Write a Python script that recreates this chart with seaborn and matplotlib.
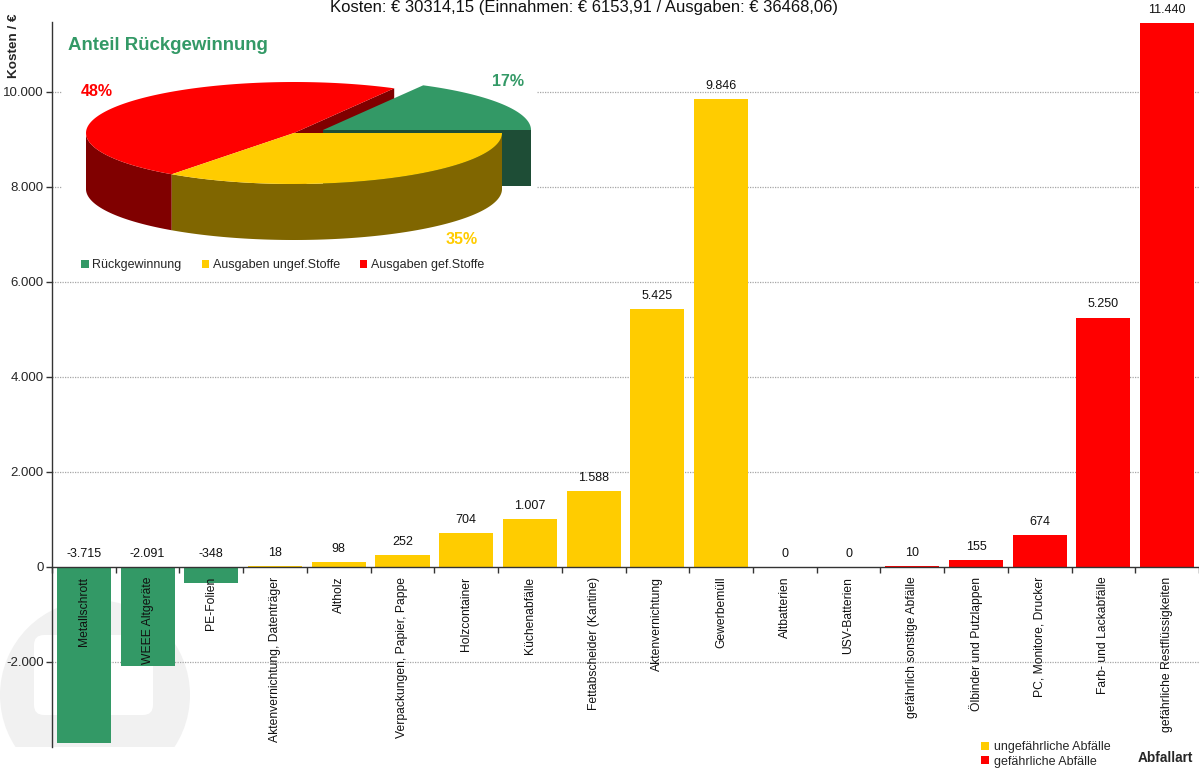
import numpy as np
import matplotlib
matplotlib.use("Agg")
import matplotlib.pyplot as plt
from matplotlib.patches import Polygon, Rectangle, Circle, FancyBboxPatch, Patch
import seaborn as sns
import pandas as pd

# ---- data -------------------------------------------------------------
categories = [
    "Metallschrott", "WEEE Altgeräte", "PE-Folien",
    "Aktenvernichtung, Datenträger", "Altholz", "Verpackungen, Papier, Pappe",
    "Holzcontainer", "Küchenabfälle", "Fettabscheider (Kantine)",
    "Aktenvernichtung", "Gewerbemüll", "Altbatterien", "USV-Batterien",
    "gefährlich sonstige Abfälle", "Ölbinder und Putzlappen",
    "PC, Monitore, Drucker", "Farb- und Lackabfälle",
    "gefährliche Restflüssigkeiten",
]
values = [-3715, -2091, -348, 18, 98, 252, 704, 1007, 1588, 5425, 9846,
          0, 0, 10, 155, 674, 5250, 11440]
groups = (["Rückgewinnung"] * 3 + ["ungefährliche Abfälle"] * 8
          + ["gefährliche Abfälle"] * 7)

pie_labels = ["Rückgewinnung", "Ausgaben gef.Stoffe", "Ausgaben ungef.Stoffe"]
pie_shares = [17, 48, 35]

title = "Kosten: € 30314,15 (Einnahmen: € 6153,91 / Ausgaben: € 36468,06)"
yticks = [-2000, 0, 2000, 4000, 6000, 8000, 10000]

# ---- styling ----------------------------------------------------------
GREEN, YELLOW, RED = "#339966", "#FFCC00", "#FF0000"
palette = {"Rückgewinnung": GREEN, "ungefährliche Abfälle": YELLOW,
           "gefährliche Abfälle": RED}
pie_top = {"Rückgewinnung": GREEN, "Ausgaben ungef.Stoffe": YELLOW,
           "Ausgaben gef.Stoffe": RED}
pie_side = {"Rückgewinnung": "#1E4D36", "Ausgaben ungef.Stoffe": "#806600",
            "Ausgaben gef.Stoffe": "#800000"}

sns.set_theme(style="white")
plt.rcParams["font.family"] = ["Liberation Sans", "DejaVu Sans"]
FS_CAT = 8.7
FS_VAL = 9.0
FS_TICK = 9.5

W, H = 1199, 769
fig = plt.figure(figsize=(W / 100, H / 100), dpi=100)

# background layer (faint watermark), pixel coordinates
bg = fig.add_axes([0, 0, 1, 1], zorder=0)
bg.set_xlim(0, W)
bg.set_ylim(H, 0)
bg.axis("off")
clip = Rectangle((0, 0), W, 747, transform=bg.transData)
wm = Circle((95, 695), 95, color="#f1f1f1", lw=0)
bg.add_patch(wm)
wm.set_clip_path(clip)
inner = FancyBboxPatch((34, 635), 119, 80, boxstyle="round,pad=0,rounding_size=10",
                       color="white", lw=0)
bg.add_patch(inner)

# ---- main bar chart ---------------------------------------------------
y0, y1 = -3790, 11470
ax = fig.add_axes([52 / W, (H - 747) / H, 1147 / W, 725 / H], zorder=1)
ax.set_facecolor("none")

df = pd.DataFrame({"Abfallart": categories, "Kosten": values, "Gruppe": groups})
sns.barplot(data=df, x="Abfallart", y="Kosten", hue="Gruppe", palette=palette,
            dodge=False, width=0.85, legend=False, ax=ax, saturation=1,
            linewidth=0)

ax.set_xlim(-0.5, len(categories) - 0.5)
ax.set_ylim(y0, y1)
ax.set_xlabel("")
ax.set_ylabel("")

for s in ["top", "right"]:
    ax.spines[s].set_visible(False)
ax.spines["bottom"].set_position(("data", 0))
ax.spines["bottom"].set_color("#333333")
ax.spines["left"].set_color("#333333")
ax.spines["bottom"].set_linewidth(1.0)
ax.spines["left"].set_linewidth(1.0)
ax.spines["bottom"].set_zorder(5)

ax.set_xticks(np.arange(-0.5, len(categories), 1.0))
ax.set_xticklabels([])
ax.set_yticks(yticks)
ax.set_yticklabels([f"{t:,}".replace(",", ".") for t in yticks],
                   fontsize=FS_TICK)
ax.tick_params(axis="both", direction="out", length=4, width=1,
               color="#333333", pad=2, left=True, bottom=True)

for t in yticks:
    if t != 0:
        ax.axhline(t, color="#a6a6a6", lw=0.9, ls=(0, (1, 1)), zorder=0)

for i, (lab, v) in enumerate(zip(categories, values)):
    ax.annotate(f"{v:,}".replace(",", "."), xy=(i, max(v, 0)),
                xytext=(0, 9.4), textcoords="offset points",
                ha="center", va="center", fontsize=FS_VAL, color="#111111")
    ax.annotate(lab, xy=(i, 0), xytext=(0, -7.0), textcoords="offset points",
                ha="center", va="top", rotation=90, fontsize=FS_CAT,
                color="#111111")

fig.text(584 / W, 1 - 12 / H, title, ha="center", va="baseline",
         fontsize=12, color="#111111")
fig.text(14 / W, 1 - 46 / H, "Kosten / €", rotation=90, ha="center",
         va="center", fontsize=9.7, fontweight="bold")
fig.text(1165 / W, 1 - 758 / H, "Abfallart", ha="center", va="center",
         fontsize=9.8, fontweight="bold")

fig.legend(handles=[Patch(color=YELLOW, lw=0), Patch(color=RED, lw=0)],
           labels=["ungefährliche Abfälle", "gefährliche Abfälle"],
           loc="upper left", bbox_to_anchor=(981 / W, 1 - 741 / H),
           frameon=False, fontsize=9, handlelength=0.6, handleheight=0.6,
           handletextpad=0.45, labelspacing=0.2, borderpad=0,
           borderaxespad=0)

# ---- 3D pie inset -----------------------------------------------------
pa = fig.add_axes([0, 0, 1, 1], zorder=3)
pa.set_xlim(0, W)
pa.set_ylim(H, 0)
pa.axis("off")
pa.add_patch(Rectangle((62, 30), 475, 246, color="white", lw=0))

cx, cy, rx, ry, depth = 294.0, 133.0, 208.0, 51.0, 56.0
explode = {"Rückgewinnung": (29.0, -3.0)}

def rim(a, dx=0.0, dy=0.0, dz=0.0):
    r = np.radians(a)
    return cx + dx + rx * np.cos(r), cy + dy - ry * np.sin(r) + dz

edges = np.concatenate([[0], np.cumsum(pie_shares) / sum(pie_shares) * 360])
slices = [(lab, edges[k], edges[k + 1]) for k, lab in enumerate(pie_labels)]

def top_face(lab, a0, a1):
    dx, dy = explode.get(lab, (0.0, 0.0))
    ang = np.linspace(a0, a1, 120)
    xs, ys = rim(ang, dx, dy)
    pts = np.vstack([[cx + dx, cy + dy], np.column_stack([xs, ys])])
    return Polygon(pts, closed=True, color=pie_top[lab], lw=0)

def wall(lab, a0, a1):
    dx, dy = explode.get(lab, (0.0, 0.0))
    lo, hi = max(a0, 180), min(a1, 360)
    if hi <= lo:
        return None
    ang = np.linspace(lo, hi, 120)
    xt, yt = rim(ang, dx, dy)
    xb, yb = rim(ang[::-1], dx, dy, depth)
    pts = np.column_stack([np.concatenate([xt, xb]), np.concatenate([yt, yb])])
    return Polygon(pts, closed=True, color=pie_side[lab], lw=0)

def cut_face(lab, a):
    dx, dy = explode.get(lab, (0.0, 0.0))
    ex, ey = rim(a, dx, dy)
    pts = [(cx + dx, cy + dy), (ex, ey), (ex, ey + depth),
           (cx + dx, cy + dy + depth)]
    return Polygon(pts, closed=True, color=pie_side[lab], lw=0)

# back to front: exposed cut faces, exploded slice, front walls, tops
lab_g, g0, g1 = slices[0]
pa.add_patch(cut_face(slices[1][0], slices[1][1]))
pa.add_patch(cut_face(lab_g, g0))
pa.add_patch(top_face(lab_g, g0, g1))
for lab, a0, a1 in slices[1:]:
    w = wall(lab, a0, a1)
    if w is not None:
        pa.add_patch(w)
for lab, a0, a1 in slices[1:]:
    pa.add_patch(top_face(lab, a0, a1))

pa.text(68, 46, "Anteil Rückgewinnung", ha="left", va="center",
        fontsize=13.4, fontweight="bold", color=GREEN)
pct_pos = {"Rückgewinnung": (508, 81), "Ausgaben gef.Stoffe": (97, 92),
           "Ausgaben ungef.Stoffe": (462, 240)}
for lab, share in zip(pie_labels, pie_shares):
    x, y = pct_pos[lab]
    pa.text(x, y, f"{share}%", ha="center", va="center", fontsize=11.5,
            fontweight="bold", color=pie_top[lab])

pie_leg_order = ["Rückgewinnung", "Ausgaben ungef.Stoffe", "Ausgaben gef.Stoffe"]
pa.legend(handles=[Patch(color=pie_top[l], lw=0) for l in pie_leg_order],
          labels=pie_leg_order, loc="center left",
          bbox_to_anchor=(81 / W, 1 - 265 / H), ncol=3, frameon=False,
          fontsize=9, handlelength=0.6, handleheight=0.6,
          handletextpad=0.3, columnspacing=1.6, borderpad=0,
          borderaxespad=0)

fig.savefig("out.png", dpi=100)
